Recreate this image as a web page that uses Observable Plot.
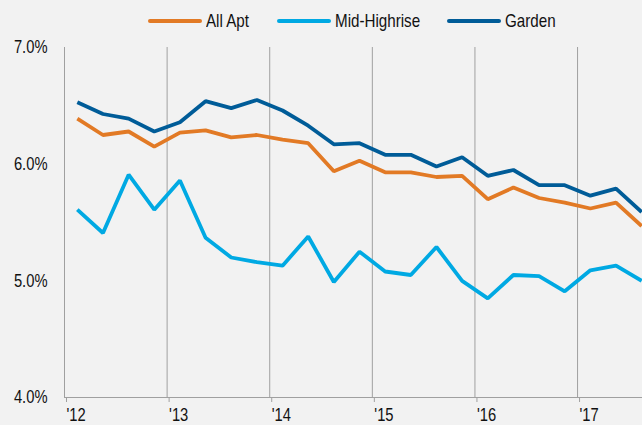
<!DOCTYPE html>
<html>
<head>
<meta charset="utf-8">
<script src="https://cdn.jsdelivr.net/npm/d3@7"></script>
<script src="https://cdn.jsdelivr.net/npm/@observablehq/plot@0.6"></script>
<style>
  html, body { margin: 0; padding: 0; background: #f2f2f2; }
  body { width: 642px; height: 425px; overflow: hidden; font-family: "Liberation Sans", Arial, sans-serif; }
  #legend { height: 38px; position: relative; }
  .item { position: absolute; top: 10px; height: 21px; display: flex; align-items: center; font-size: 18.5px; line-height: 21px; color: #111; white-space: nowrap; }
  .sw { width: 54px; height: 4px; border-radius: 2px; margin-right: 4px; margin-top: 1px; flex: none; }
  .lbl { display: inline-block; transform: scaleX(0.82); transform-origin: left center; }
</style>
</head>
<body>
<div id="legend"></div>
<div id="chart"></div>
<script>
const quarters = ["2012Q1","2012Q2","2012Q3","2012Q4","2013Q1","2013Q2","2013Q3","2013Q4",
  "2014Q1","2014Q2","2014Q3","2014Q4","2015Q1","2015Q2","2015Q3","2015Q4",
  "2016Q1","2016Q2","2016Q3","2016Q4","2017Q1","2017Q2","2017Q3"];
const allApt = [6.39,6.25,6.28,6.15,6.27,6.29,6.23,6.25,6.21,6.18,5.94,6.03,5.93,5.93,5.89,5.90,5.70,5.80,5.71,5.67,5.62,5.67,5.47];
const midHighrise = [5.61,5.41,5.91,5.61,5.86,5.37,5.20,5.16,5.13,5.38,4.99,5.25,5.08,5.05,5.29,5.00,4.85,5.05,5.04,4.91,5.09,5.13,5.00];
const garden = [6.53,6.43,6.39,6.28,6.36,6.54,6.48,6.55,6.46,6.33,6.17,6.18,6.08,6.08,5.98,6.06,5.90,5.95,5.82,5.82,5.73,5.79,5.59];
const seriesNames = ["All Apt","Mid-Highrise","Garden"];
const seriesColors = ["#E27A25","#00A9E3","#005C98"];
const years = [2012,2013,2014,2015,2016,2017];
const yTicks = [4,5,6,7];

const seriesValues = [allApt, midHighrise, garden];
const xPos = q => +q.slice(0,4) + (+q.slice(5) - 0.5) / 4;
const rows = [];
seriesNames.forEach((name, s) => quarters.forEach((q, i) => rows.push({series: name, x: xPos(q), v: seriesValues[s][i]})));

// legend
const leg = document.getElementById("legend");
const lefts = [148, 277, 447];
seriesNames.forEach((n, i) => {
  const d = document.createElement("div");
  d.className = "item";
  d.style.left = lefts[i] + "px";
  d.innerHTML = `<span class="sw" style="background:${seriesColors[i]}"></span><span class="lbl">${n}</span>`;
  leg.appendChild(d);
});

const chart = Plot.plot({
  width: 642,
  height: 387,
  marginLeft: 64,
  marginRight: 0,
  marginTop: 9,
  marginBottom: 28,
  style: {background: "#f2f2f2", fontFamily: "'Liberation Sans', Arial, sans-serif", fontSize: "18px", color: "#111", overflow: "visible"},
  x: {domain: [2012, 2017.633], ticks: years},
  y: {domain: [4, 7], ticks: yTicks},
  color: {domain: seriesNames, range: seriesColors},
  marks: [
    Plot.ruleX(years, {y1: 4, y2: 7, stroke: "#a0a0a0", strokeWidth: 1}),
    Plot.ruleY([4], {stroke: "#a0a0a0", strokeWidth: 1.2}),
    Plot.axisX({ticks: years, tickFormat: d => "'" + String(d).slice(2), tickSize: 5, tickPadding: 6, textAnchor: "start", dx: 2, stroke: "#a0a0a0", fill: "#111", label: null}),
    Plot.axisY({ticks: yTicks, tickFormat: d => d.toFixed(1) + "%", tickSize: 0, tickPadding: 17, fill: "#111", label: null}),
    Plot.line(rows, {x: "x", y: "v", z: "series", stroke: "series", strokeWidth: 3.8, strokeLinejoin: "miter", strokeLinecap: "butt"})
  ]
});
// condense tick label glyphs horizontally (narrow face in the reference)
chart.querySelectorAll('g[aria-label$="tick label"] text').forEach(t => {
  const tr = t.getAttribute("transform") || "";
  t.setAttribute("transform", tr + " scale(0.82,1)");
});
document.getElementById("chart").appendChild(chart);
</script>
</body>
</html>
